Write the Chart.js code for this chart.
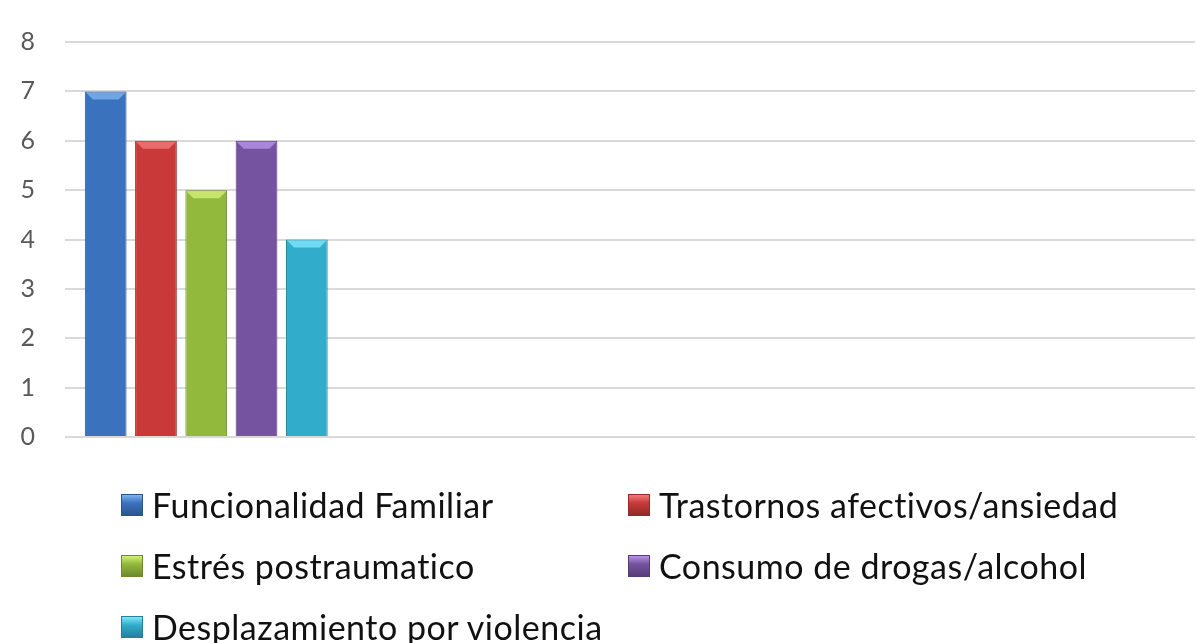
<!DOCTYPE html>
<html>
<head>
<meta charset="utf-8">
<script src="https://cdn.jsdelivr.net/npm/chart.js@4"></script>
<style>
  html, body { margin: 0; padding: 0; background: #fff; }
  #wrap { width: 1198px; height: 643px; position: relative; overflow: hidden; }
  #box { position: absolute; left: 0; top: -3px; width: 1198px; height: 485px; }
  #legend {
    position: absolute; left: 121px; top: 474px;
    display: grid; grid-template-columns: 507px 540px; grid-auto-rows: 61px;
    font-family: Lato, "Open Sans", sans-serif; font-size: 34px; color: #111;
    letter-spacing: 0.5px;
  }
  #legend div { display: flex; align-items: center; white-space: nowrap; }
  #legend span.sw { width: 22px; height: 22px; margin-right: 9px; box-sizing: border-box; flex: none; }
</style>
</head>
<body>
<div id="wrap">
  <div id="box"><canvas id="grafico"></canvas></div>
  <div id="legend"></div>
</div>
<script>
// datos
const categorias = ["", "", "", ""];
const series = [
  "Funcionalidad Familiar",
  "Trastornos afectivos/ansiedad",
  "Estrés postraumatico",
  "Consumo de drogas/alcohol",
  "Desplazamiento por violencia",
];
const valores = [7, 6, 5, 6, 4];
const colores = ["#3a72bd", "#c9393a", "#93b93c", "#7653a0", "#31adcb"];
const bordes = ["#2a568f", "#922a2a", "#6d8a2c", "#563c77", "#23829a"];
const claros = ["#7fb2f0", "#f07a78", "#d4f07a", "#b893e8", "#7ee6fb"];
const ticksY = [0, 1, 2, 3, 4, 5, 6, 7, 8];

function sombra(ctx, i) {
  const bar = ctx.element;
  if (!bar || bar.width === undefined || isNaN(bar.x)) return colores[i];
  const c = ctx.chart.ctx;
  const g = c.createLinearGradient(bar.x - bar.width / 2, 0, bar.x + bar.width / 2, 0);
  g.addColorStop(0, bordes[i]);
  g.addColorStop(0.12, colores[i]);
  g.addColorStop(0.88, colores[i]);
  g.addColorStop(1, bordes[i]);
  return g;
}

const datasets = series.map((s, i) => ({
  label: s,
  data: [valores[i], null, null, null],
  backgroundColor: (ctx) => sombra(ctx, i),
  borderColor: bordes[i],
  borderWidth: 1,
  barPercentage: 0.83,
  categoryPercentage: 0.89,
}));

// biselado en la parte superior de cada barra
const bisel = {
  id: "bisel",
  afterDatasetsDraw(chart) {
    const c = chart.ctx;
    chart.data.datasets.forEach((ds, i) => {
      chart.getDatasetMeta(i).data.forEach((bar) => {
        if (bar.$context.raw == null) return;
        const l = bar.x - bar.width / 2, r = bar.x + bar.width / 2, t = bar.y;
        c.save();
        c.fillStyle = claros[i];
        c.globalAlpha = 0.8;
        c.beginPath();
        c.moveTo(l + 1, t + 1);
        c.lineTo(r - 1, t + 1);
        c.lineTo(r - 8, t + 8);
        c.lineTo(l + 8, t + 8);
        c.closePath();
        c.fill();
        c.restore();
      });
    });
  },
};

const chart = new Chart(document.getElementById("grafico"), {
  type: "bar",
  data: { labels: categorias, datasets: datasets },
  plugins: [bisel],
  options: {
    responsive: true,
    maintainAspectRatio: false,
    animation: false,
    layout: { padding: { top: 24, left: 20, right: 3, bottom: 3 } },
    plugins: { legend: { display: false }, tooltip: { enabled: false } },
    scales: {
      x: {
        grid: { display: false },
        border: { display: false },
        ticks: { display: false },
      },
      y: {
        min: 0,
        max: 8,
        afterBuildTicks: (axis) => { axis.ticks = ticksY.map((v) => ({ value: v })); },
        afterFit: (axis) => { axis.width = 45; },
        border: { display: false },
        grid: { color: "#d9d9d9", lineWidth: 2, drawTicks: false },
        ticks: {
          padding: 30,
          color: "#595959",
          font: { family: "Lato, 'Open Sans', sans-serif", size: 25 },
        },
      },
    },
  },
});

const leyenda = document.getElementById("legend");
series.forEach((s, i) => {
  const d = document.createElement("div");
  d.innerHTML = '<span class="sw" style="background:linear-gradient(180deg,' + claros[i] + ' 0%,' + colores[i] + ' 40%,' + bordes[i] + ' 100%);border:1px solid ' + bordes[i] + '"></span>' + s;
  leyenda.appendChild(d);
});
</script>
</body>
</html>
